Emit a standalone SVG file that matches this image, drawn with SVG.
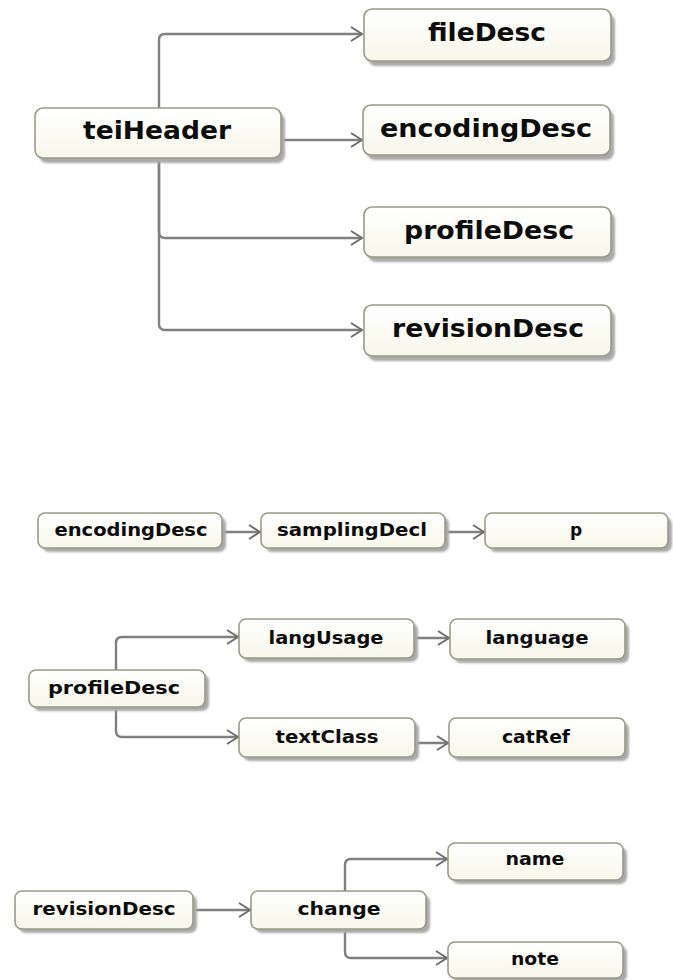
<svg xmlns="http://www.w3.org/2000/svg" width="673" height="980" viewBox="0 0 673 980">
<style>
.sh{fill:#a9a9a9;filter:url(#blur)}
.bx{fill:url(#gf);stroke:#9a9a86;stroke-width:1.6}
.t{font-family:"DejaVu Sans",Verdana,sans-serif;font-weight:bold;fill:#0d0d0d;text-anchor:middle}
.L{font-size:24px}
.S{font-size:17px}
.c{fill:none;stroke:#808080;stroke-width:2.4;marker-end:url(#ah)}
</style>
<defs>
<linearGradient id="gf" x1="0" y1="0" x2="0" y2="1">
<stop offset="0" stop-color="#ffffff"/>
<stop offset="1" stop-color="#f7f7ea"/>
</linearGradient>
<filter id="blur" x="-10%" y="-20%" width="120%" height="140%"><feGaussianBlur stdDeviation="1.1"/></filter>
<marker id="ah" markerUnits="userSpaceOnUse" markerWidth="16" markerHeight="18" refX="12" refY="8" orient="auto" viewBox="0 0 16 18">
<path d="M1,1 L12,8 L1,15" fill="none" stroke="#6e6e6e" stroke-width="2"/>
</marker>
</defs>
<rect width="673" height="980" fill="#ffffff"/>

<g id="connectors">
<path class="c" d="M159,108 V40 Q159,34 165,34 H362"/>
<path class="c" d="M281,140 H362"/>
<path class="c" d="M159,158 V232 Q159,238 165,238 H362"/>
<path class="c" d="M159,158 V324 Q159,330 165,330 H362"/>
<path class="c" d="M222,532 H260"/>
<path class="c" d="M445,532 H484"/>
<path class="c" d="M116,670 V643 Q116,637 122,637 H238"/>
<path class="c" d="M116,707 V731 Q116,737 122,737 H238"/>
<path class="c" d="M414,638 H449"/>
<path class="c" d="M415,743 H448"/>
<path class="c" d="M193,910 H250"/>
<path class="c" d="M345,891 V865 Q345,859 351,859 H447"/>
<path class="c" d="M345,929 V952 Q345,958 351,958 H447"/>
</g>

<g id="top-fileDesc">
<rect class="sh" x="368" y="14" width="247" height="52" rx="8"/>
<rect class="bx" x="364" y="9" width="247" height="52" rx="8"/>
<text class="t L" x="487" y="41" textLength="118" lengthAdjust="spacingAndGlyphs">fileDesc</text>
</g>
<g id="top-teiHeader">
<rect class="sh" x="39" y="113" width="246" height="50" rx="8"/>
<rect class="bx" x="35" y="108" width="246" height="50" rx="8"/>
<text class="t L" x="157" y="139" textLength="148" lengthAdjust="spacingAndGlyphs">teiHeader</text>
</g>
<g id="top-encodingDesc">
<rect class="sh" x="367" y="110" width="247" height="50" rx="8"/>
<rect class="bx" x="363" y="105" width="247" height="50" rx="8"/>
<text class="t L" x="486" y="137" textLength="212" lengthAdjust="spacingAndGlyphs">encodingDesc</text>
</g>
<g id="top-profileDesc">
<rect class="sh" x="368" y="212" width="247" height="50" rx="8"/>
<rect class="bx" x="364" y="207" width="247" height="50" rx="8"/>
<text class="t L" x="489" y="239" textLength="170" lengthAdjust="spacingAndGlyphs">profileDesc</text>
</g>
<g id="top-revisionDesc">
<rect class="sh" x="368" y="310" width="247" height="51" rx="8"/>
<rect class="bx" x="364" y="305" width="247" height="51" rx="8"/>
<text class="t L" x="488" y="337" textLength="192" lengthAdjust="spacingAndGlyphs">revisionDesc</text>
</g>

<g id="enc-encodingDesc">
<rect class="sh" x="42" y="517" width="184" height="35" rx="7"/>
<rect class="bx" x="38" y="513" width="184" height="35" rx="7"/>
<text class="t S" x="131" y="536" textLength="153" lengthAdjust="spacingAndGlyphs">encodingDesc</text>
</g>
<g id="enc-samplingDecl">
<rect class="sh" x="265" y="517" width="184" height="35" rx="7"/>
<rect class="bx" x="261" y="513" width="184" height="35" rx="7"/>
<text class="t S" x="352" y="536" textLength="150" lengthAdjust="spacingAndGlyphs">samplingDecl</text>
</g>
<g id="enc-p">
<rect class="sh" x="489" y="517" width="183" height="35" rx="7"/>
<rect class="bx" x="485" y="513" width="183" height="35" rx="7"/>
<text class="t S" x="576" y="536">p</text>
</g>

<g id="prof-profileDesc">
<rect class="sh" x="33" y="674" width="176" height="37" rx="7"/>
<rect class="bx" x="29" y="670" width="176" height="37" rx="7"/>
<text class="t S" x="114" y="694" textLength="132" lengthAdjust="spacingAndGlyphs">profileDesc</text>
</g>
<g id="prof-langUsage">
<rect class="sh" x="243" y="623" width="175" height="39" rx="7"/>
<rect class="bx" x="239" y="619" width="175" height="39" rx="7"/>
<text class="t S" x="326" y="644" textLength="115" lengthAdjust="spacingAndGlyphs">langUsage</text>
</g>
<g id="prof-language">
<rect class="sh" x="454" y="623" width="175" height="40" rx="7"/>
<rect class="bx" x="450" y="619" width="175" height="40" rx="7"/>
<text class="t S" x="537" y="644" textLength="103" lengthAdjust="spacingAndGlyphs">language</text>
</g>
<g id="prof-textClass">
<rect class="sh" x="243" y="722" width="176" height="39" rx="7"/>
<rect class="bx" x="239" y="718" width="176" height="39" rx="7"/>
<text class="t S" x="327" y="743" textLength="103" lengthAdjust="spacingAndGlyphs">textClass</text>
</g>
<g id="prof-catRef">
<rect class="sh" x="453" y="722" width="176" height="39" rx="7"/>
<rect class="bx" x="449" y="718" width="176" height="39" rx="7"/>
<text class="t S" x="536" y="743" textLength="68" lengthAdjust="spacingAndGlyphs">catRef</text>
</g>

<g id="rev-revisionDesc">
<rect class="sh" x="19" y="895" width="178" height="38" rx="7"/>
<rect class="bx" x="15" y="891" width="178" height="38" rx="7"/>
<text class="t S" x="104" y="915" textLength="143" lengthAdjust="spacingAndGlyphs">revisionDesc</text>
</g>
<g id="rev-change">
<rect class="sh" x="255" y="895" width="175" height="38" rx="7"/>
<rect class="bx" x="251" y="891" width="175" height="38" rx="7"/>
<text class="t S" x="339" y="915" textLength="83" lengthAdjust="spacingAndGlyphs">change</text>
</g>
<g id="rev-name">
<rect class="sh" x="452" y="847" width="175" height="37" rx="7"/>
<rect class="bx" x="448" y="843" width="175" height="37" rx="7"/>
<text class="t S" x="535" y="865" textLength="59" lengthAdjust="spacingAndGlyphs">name</text>
</g>
<g id="rev-note">
<rect class="sh" x="452" y="946" width="175" height="36" rx="7"/>
<rect class="bx" x="448" y="942" width="175" height="36" rx="7"/>
<text class="t S" x="535" y="965" textLength="48" lengthAdjust="spacingAndGlyphs">note</text>
</g>
</svg>
